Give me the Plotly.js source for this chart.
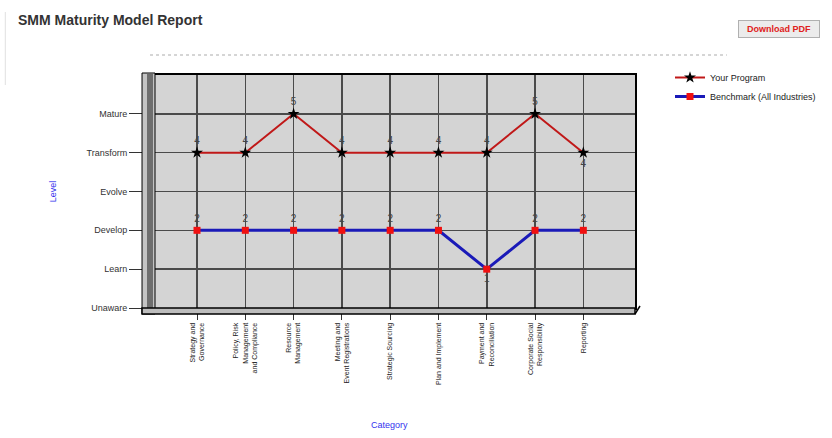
<!DOCTYPE html>
<html>
<head>
<meta charset="utf-8">
<script src="https://cdn.plot.ly/plotly-3.0.1.min.js"></script>
<style>
html,body{margin:0;padding:0;background:#fff;}
#chart{width:832px;height:438px;}
</style>
</head>
<body>
<div id="chart"></div>
<script>
const categories = [
  "Strategy and<br>Governance",
  "Policy, Risk<br>Management<br>and Compliance",
  "Resource<br>Management",
  "Meeting and<br>Event Registrations",
  "Strategic Sourcing",
  "Plan and Implement",
  "Payment and<br>Reconciliation",
  "Corporate Social<br>Responsibility",
  "Reporting"
];
const levelLabels = ["Unaware", "Learn", "Develop", "Evolve", "Transform", "Mature"];
const levelValues = [0, 1, 2, 3, 4, 5];
const yourProgram = [4, 4, 5, 4, 4, 4, 4, 5, 4];
const benchmark = [2, 2, 2, 2, 2, 2, 1, 2, 2];
const yourProgramLabelPos = ["top center","top center","top center","top center","top center","top center","top center","top center","bottom center"];
const benchmarkLabelPos = ["top center","top center","top center","top center","top center","top center","bottom center","top center","top center"];

const idx = categories.map((c, i) => i);

// plot area pixel geometry helpers (for decorative shapes)
const W = 832, H = 438, L = 155, R = 196, T = 75, B = 130;
const pw = W - L - R, ph = H - T - B;
const px = v => (v - L) / pw;
const py = v => (H - B - v) / ph;

const traces = [
  {
    x: idx, y: yourProgram, name: "Your Program", type: "scatter",
    mode: "lines+markers+text",
    text: yourProgram.map(String), textposition: yourProgramLabelPos,
    textfont: {family: "Liberation Sans, Arial", size: 10, color: "#444"},
    line: {color: "#c01818", width: 2},
    marker: {symbol: "star", size: 9, color: "#000"},
    cliponaxis: false
  },
  {
    x: idx, y: benchmark, name: "Benchmark (All Industries)", type: "scatter",
    mode: "lines+markers+text",
    text: benchmark.map(String), textposition: benchmarkLabelPos,
    textfont: {family: "Liberation Sans, Arial", size: 10, color: "#444"},
    line: {color: "#1a1ab8", width: 3},
    marker: {symbol: "square", size: 7, color: "#f01010"},
    cliponaxis: false
  }
];

const layout = {
  width: W, height: H,
  margin: {l: L, r: R, t: T, b: B},
  paper_bgcolor: "#fff",
  plot_bgcolor: "#d4d4d4",
  font: {family: "Liberation Sans, Arial", color: "#222"},
  title: {
    text: "<b>SMM Maturity Model Report</b>",
    font: {family: "Liberation Sans, Arial", size: 14, color: "#333"},
    x: 18 / W, xanchor: "left", y: 1 - 20 / H, yanchor: "middle"
  },
  showlegend: true,
  legend: {
    x: px(670), xanchor: "left", y: py(63), yanchor: "top",
    font: {family: "Liberation Sans, Arial", size: 9, color: "#222"},
    itemwidth: 30, tracegroupgap: 0, bgcolor: "rgba(0,0,0,0)"
  },
  xaxis: {
    range: [-0.87, 9.07],
    tickmode: "array", tickvals: idx, ticktext: categories,
    tickangle: -90,
    tickfont: {family: "Liberation Sans, Arial", size: 7, color: "#222"},
    ticks: "outside", ticklen: 10, tickcolor: "#333",
    showgrid: true, gridcolor: "#4a4a4a", gridwidth: 1.5,
    zeroline: false,
    showline: true, linecolor: "#000", linewidth: 2, mirror: true,
    automargin: false
  },
  yaxis: {
    range: [0, 6],
    tickmode: "array", tickvals: levelValues, ticktext: levelLabels,
    tickfont: {family: "Liberation Sans, Arial", size: 9, color: "#333"},
    ticks: "outside", ticklen: 24, tickcolor: "#333",
    showgrid: true, gridcolor: "#4a4a4a", gridwidth: 1.5,
    zeroline: false,
    showline: true, linecolor: "#000", linewidth: 2, mirror: true,
    automargin: false,
    title: {text: "Level", font: {family: "Liberation Sans, Arial", size: 9, color: "#3333ee"}, standoff: 28}
  },
  shapes: [
    // dotted separator
    {type: "line", xref: "paper", yref: "paper", x0: px(150), x1: px(728), y0: py(55), y1: py(55),
     line: {color: "#c8c8c8", width: 1.5, dash: "dot"}},
    // faint page border on the left
    {type: "line", xref: "paper", yref: "paper", x0: px(5), x1: px(5), y0: py(12), y1: py(85),
     line: {color: "#e0e0e0", width: 1}},
    // 3D left wall
    {type: "rect", xref: "paper", yref: "paper", x0: px(142), x1: px(155), y0: py(314), y1: py(73),
     fillcolor: "#c4c4c4", line: {color: "#000", width: 1}},
    {type: "rect", xref: "paper", yref: "paper", x0: px(147), x1: px(153), y0: py(312), y1: py(74),
     fillcolor: "#6e6e6e", line: {width: 0}},
    // 3D floor
    {type: "rect", xref: "paper", yref: "paper", x0: px(142), x1: px(636), y0: py(314), y1: py(308),
     fillcolor: "#bdbdbd", line: {color: "#000", width: 1.5}},
    {type: "line", xref: "paper", yref: "paper", x0: px(636), x1: px(641), y0: py(314), y1: py(306),
     line: {color: "#000", width: 1.5}}
  ],
  annotations: [
    {xref: "paper", yref: "paper", x: px(780), y: py(29), xanchor: "center", yanchor: "middle",
     text: "<b>Download PDF</b>", showarrow: false,
     font: {family: "Liberation Sans, Arial", size: 9, color: "#e02020"},
     bgcolor: "#ececec", bordercolor: "#b0b0b0", borderwidth: 1, borderpad: 3, width: 74, height: 10},
    {xref: "paper", yref: "paper", x: px(390), y: py(425), xanchor: "center", yanchor: "middle",
     text: "Category", showarrow: false,
     font: {family: "Liberation Sans, Arial", size: 9, color: "#3333ee"}}
  ]
};

Plotly.newPlot("chart", traces, layout, {displayModeBar: false, staticPlot: true});
</script>
</body>
</html>
